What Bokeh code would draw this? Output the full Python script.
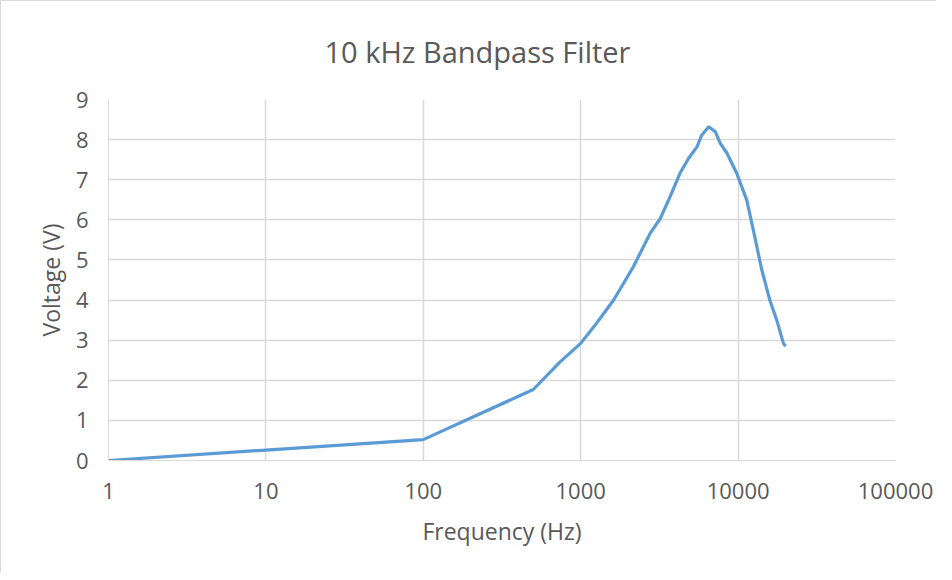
from bokeh.plotting import figure
from bokeh.models import FixedTicker, NumeralTickFormatter, Range1d, Title
from bokeh.embed import file_html
from bokeh.resources import INLINE

# Data
freq_hz = [1, 10, 100, 500, 740, 1000, 1260, 1620, 2160, 2760, 3200, 3700,
           4270, 4840, 5480, 5870, 6500, 7160, 7690, 8500, 9800, 11350,
           12500, 14150, 15900, 17600, 19400, 20000]
voltage_v = [0.0, 0.26, 0.52, 1.77, 2.46, 2.92, 3.42, 4.0, 4.83, 5.66, 6.03,
             6.58, 7.16, 7.53, 7.82, 8.11, 8.32, 8.20, 7.91, 7.66, 7.16, 6.49,
             5.74, 4.75, 4.0, 3.50, 2.92, 2.85]
x_ticks = [1, 10, 100, 1000, 10000, 100000]
y_ticks = [0, 1, 2, 3, 4, 5, 6, 7, 8, 9]
title_text = "10 kHz Bandpass Filter"

TEXT = "#595959"
GRID = "#D9D9D9"
FONT = "Open Sans"

p = figure(width=936, height=572, x_axis_type="log",
           x_range=Range1d(1, 100000), y_range=Range1d(0, 9),
           output_backend="svg", toolbar_location=None,
           min_border_left=107, min_border_right=42,
           min_border_top=98, min_border_bottom=113)
p.styles = {"border-left": "1px solid #D9D9D9", "border-top": "1px solid #D9D9D9"}

t = Title(text=title_text, align="left", offset=216, vertical_align="top",
          text_font=FONT, text_font_size="29px", text_font_style="normal",
          text_color=TEXT, standoff=54)
p.add_layout(t, "above")

p.line(freq_hz, voltage_v, line_color="#5B9BD5", line_width=3.2)

p.outline_line_color = None
p.background_fill_color = "white"
p.border_fill_color = "white"

p.xaxis.ticker = FixedTicker(ticks=x_ticks)
p.xaxis.formatter = NumeralTickFormatter(format="0")
p.yaxis.ticker = FixedTicker(ticks=y_ticks)
p.xgrid.ticker = FixedTicker(ticks=x_ticks)
p.ygrid.ticker = FixedTicker(ticks=y_ticks)

for ax in (p.xaxis, p.yaxis):
    ax.axis_line_color = GRID
    ax.major_tick_line_color = None
    ax.minor_tick_line_color = None
    ax.major_label_text_font = FONT
    ax.major_label_text_font_size = "22px"
    ax.major_label_text_color = TEXT
    ax.axis_label_text_font = FONT
    ax.axis_label_text_font_size = "23px"
    ax.axis_label_text_font_style = "normal"
    ax.axis_label_text_color = TEXT

p.xaxis.axis_label = "Frequency (Hz)"
p.yaxis.axis_label = "Voltage (V)"
p.xaxis.major_label_standoff = 16
p.yaxis.major_label_standoff = 14
p.xaxis.axis_label_standoff = 13
p.yaxis.axis_label_standoff = 6

p.xgrid.grid_line_color = GRID
p.ygrid.grid_line_color = GRID
p.xgrid.grid_line_width = 1.5
p.ygrid.grid_line_width = 1.5

open("out.html", "w").write(file_html(p, INLINE))
